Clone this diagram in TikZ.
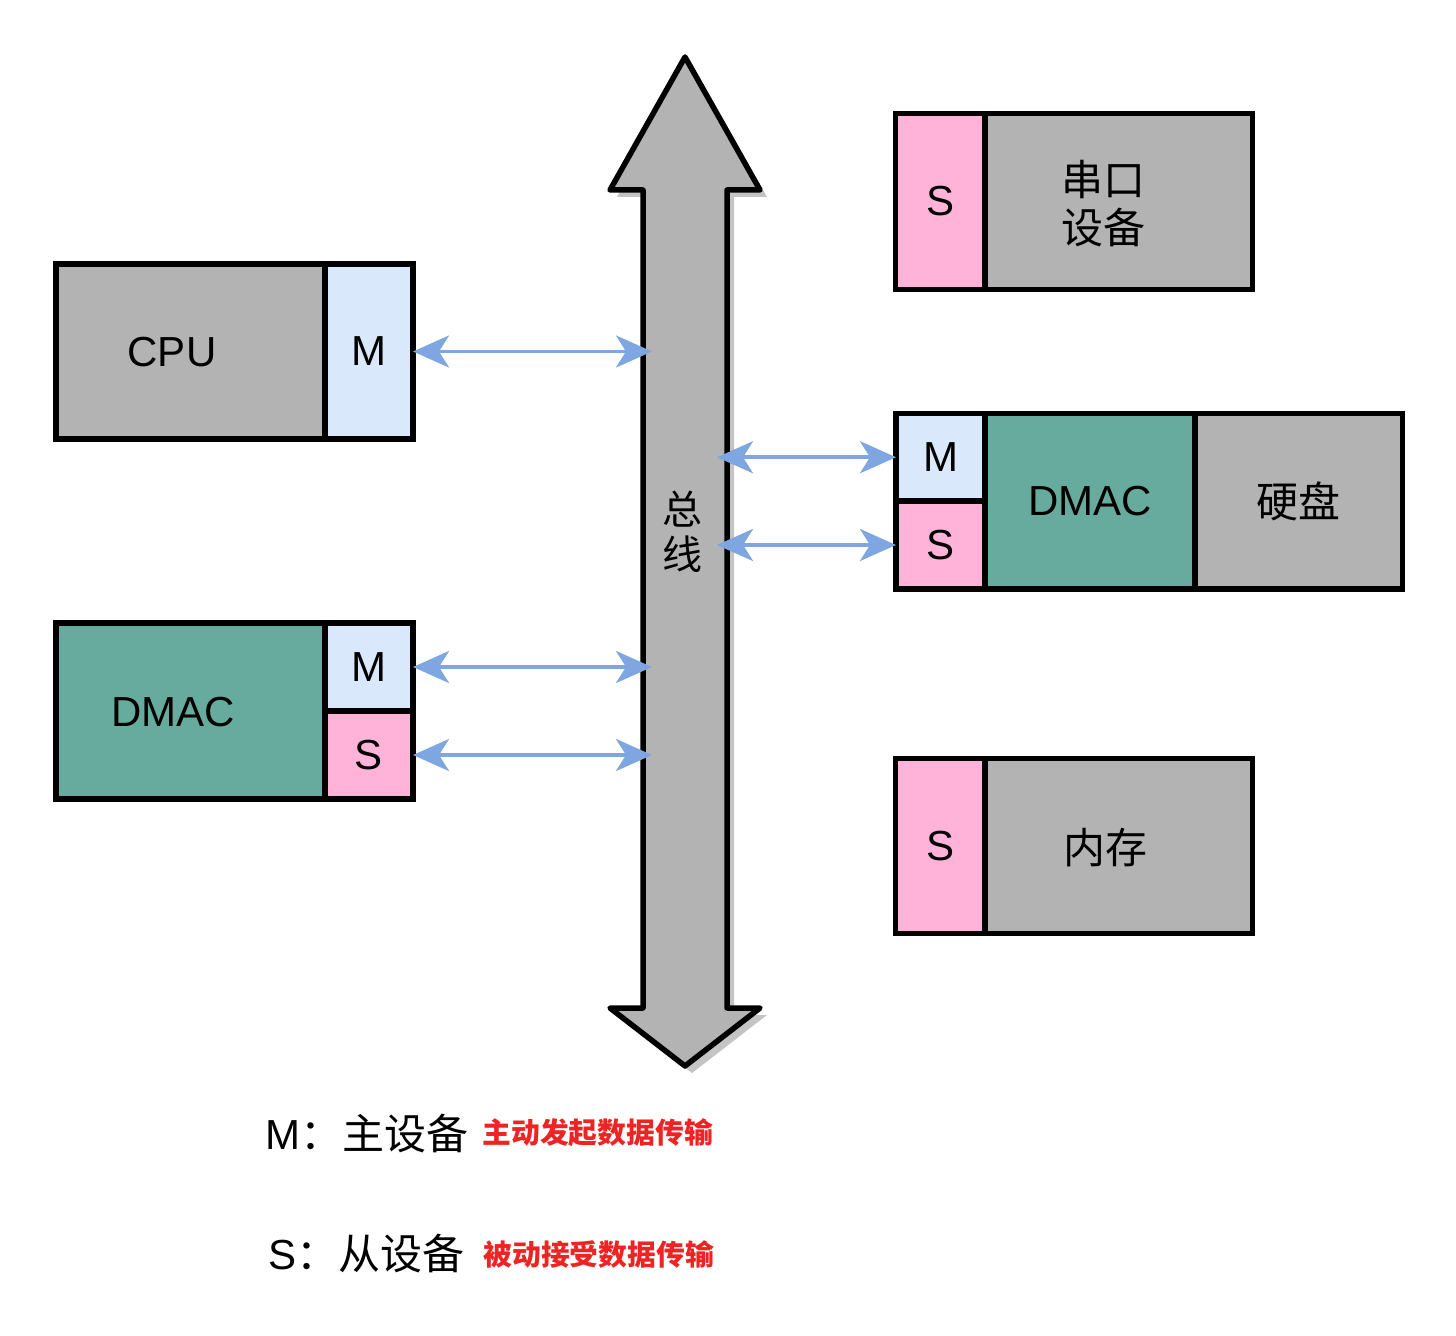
\documentclass[tikz,border=0pt]{standalone}
\usepackage{fontspec}
\setmainfont{Liberation Sans}
\newfontfamily\cjk{Noto Sans CJK SC}
\usetikzlibrary{arrows.meta}
\definecolor{boxgray}{HTML}{B3B3B3}
\definecolor{mblue}{HTML}{DAE8FC}
\definecolor{spink}{HTML}{FFB3D9}
\definecolor{dteal}{HTML}{67AB9F}
\definecolor{arrowblue}{HTML}{7EA6E0}
\definecolor{legred}{HTML}{EE2424}
\definecolor{shadowgray}{HTML}{C4C4C4}
\begin{document}
\begin{tikzpicture}[x=0.5pt,y=-0.5pt,
  part/.style={draw=black, line width=2.75pt, inner sep=0pt, outer sep=0pt, font=\fontsize{21}{25}\selectfont},
  lbl/.style={inner sep=0pt, font=\fontsize{21}{25}\selectfont},
  conn/.style={draw=arrowblue, line width=1.9pt,
    {Stealth[length=18pt,width=16pt,inset=5pt]}-{Stealth[length=18pt,width=16pt,inset=5pt]}},
  legend/.style={anchor=west, inner sep=0pt, font=\fontsize{21}{25}\selectfont},
  legnote/.style={anchor=west, inner sep=0pt, text=legred, font=\cjk\bfseries\fontsize{14.4}{17}\selectfont}]
\useasboundingbox (0,0) rectangle (1456,1336);

% bus (double arrow) with shadow
\fill[shadowgray, shift={(7,7)}] (685,57) -- (760,190) -- (727,190) -- (727,1008) -- (760,1008) -- (685,1066) -- (610,1008) -- (643,1008) -- (643,190) -- (610,190) -- cycle;
\draw[fill=boxgray, line width=2.75pt, line join=round] (685,57) -- (760,190) -- (727,190) -- (727,1008) -- (760,1008) -- (685,1066) -- (610,1008) -- (643,1008) -- (643,190) -- (610,190) -- cycle;
\node[inner sep=0pt, align=center, font=\cjk\fontsize{20}{22.5}\selectfont] (bus) at (682,532) {总\\线};
\coordinate (busL) at (652,0);
\coordinate (busR) at (717,0);

% CPU
\node[part, fill=boxgray, minimum width=134.5pt, minimum height=87.5pt] (cpu) at (190.5,351.5) {};
\node[lbl] (cputxt) at (172,352) {CPU};
\node[part, fill=mblue, minimum width=44pt, minimum height=87.5pt] (cpuM) at (369,351.5) {M};

% left DMAC
\node[part, fill=dteal, minimum width=134.5pt, minimum height=88pt] (dmacL) at (190.5,711) {};
\node[lbl] (dmacLtxt) at (173,712) {DMAC};
\node[part, fill=mblue, minimum width=44pt, minimum height=44pt] (dmacLM) at (369,667) {M};
\node[part, fill=spink, minimum width=44pt, minimum height=44pt] (dmacLS) at (369,755) {S};

% serial device
\node[part, fill=boxgray, minimum width=133.75pt, minimum height=88pt] (serial) at (1118.75,201.5) {};
\node[part, fill=spink, minimum width=44.75pt, minimum height=88pt] (serialS) at (940.25,201.5) {S};
\node[lbl, align=center, font=\cjk\fontsize{21}{24}\selectfont] (serialtxt) at (1103,204) {串口\\设备};

% right DMAC + disk
\node[part, fill=boxgray, minimum width=103.75pt, minimum height=87.75pt, font=\cjk\fontsize{21}{25}\selectfont] (hdd) at (1298.75,501.25) {硬盘};
\node[part, fill=dteal, minimum width=105pt, minimum height=87.75pt] (dmacR) at (1090,501.25) {DMAC};
\node[part, fill=mblue, minimum width=44.5pt, minimum height=43.75pt] (dmacRM) at (940.5,457.25) {M};
\node[part, fill=spink, minimum width=44.5pt, minimum height=44pt] (dmacRS) at (940.5,545) {S};

% memory
\node[part, fill=boxgray, minimum width=133.75pt, minimum height=87.5pt] (mem) at (1118.75,846) {};
\node[part, fill=spink, minimum width=44.75pt, minimum height=87.5pt] (memS) at (940.25,846) {S};
\node[lbl, font=\cjk\fontsize{21}{25}\selectfont] (memtxt) at (1105,848) {内存};

% connectors
\draw[conn] (cpuM.east) -- (cpuM.east -| busL);
\draw[conn] (dmacLM.east) -- (dmacLM.east -| busL);
\draw[conn] (dmacLS.east) -- (dmacLS.east -| busL);
\draw[conn] (dmacRM.west -| busR) -- (dmacRM.west);
\draw[conn] (dmacRS.west -| busR) -- (dmacRS.west);

% legend
\node[legend] (legM) at (265,1134) {M\cjk ：主设备};
\node[legnote] (legMnote) at (482,1133) {主动发起数据传输};
\node[legend] (legS) at (268,1254) {S\cjk ：从设备};
\node[legnote] (legSnote) at (483,1255) {被动接受数据传输};
\end{tikzpicture}
\end{document}
